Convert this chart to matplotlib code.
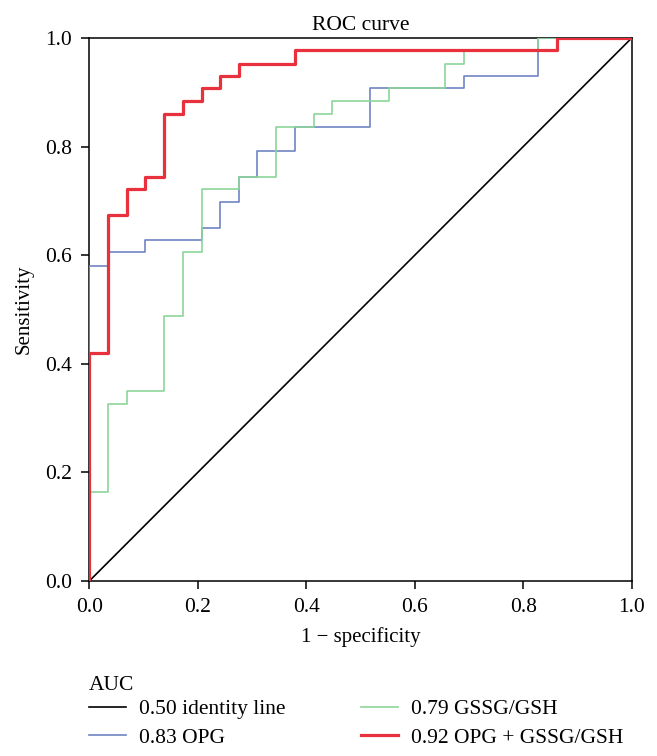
import matplotlib
matplotlib.use("Agg")
import matplotlib.pyplot as plt
from matplotlib.lines import Line2D

plt.rcParams['font.family'] = ['Liberation Serif', 'DejaVu Serif']

# ROC step vertices (1 - specificity, sensitivity)
identity_fpr = [0.0, 1.0]
identity_tpr = [0.0, 1.0]

opg_fpr = [0.0, 0.0, 0.034, 0.034, 0.103, 0.103, 0.207, 0.207, 0.241, 0.241,
           0.276, 0.276, 0.310, 0.310, 0.379, 0.379, 0.517, 0.517, 0.690, 0.690,
           0.828, 0.828, 1.0]
opg_tpr = [0.0, 0.581, 0.581, 0.605, 0.605, 0.628, 0.628, 0.651, 0.651, 0.698,
           0.698, 0.744, 0.744, 0.791, 0.791, 0.837, 0.837, 0.907, 0.907, 0.930,
           0.930, 1.0, 1.0]

gssg_fpr = [0.0, 0.0, 0.034, 0.034, 0.069, 0.069, 0.138, 0.138, 0.172, 0.172,
            0.207, 0.207, 0.276, 0.276, 0.345, 0.345, 0.414, 0.414, 0.448, 0.448,
            0.552, 0.552, 0.655, 0.655, 0.690, 0.690, 0.828, 0.828, 1.0]
gssg_tpr = [0.0, 0.163, 0.163, 0.326, 0.326, 0.349, 0.349, 0.488, 0.488, 0.605,
            0.605, 0.721, 0.721, 0.744, 0.744, 0.837, 0.837, 0.860, 0.860, 0.884,
            0.884, 0.907, 0.907, 0.953, 0.953, 0.977, 0.977, 1.0, 1.0]

combo_fpr = [0.0, 0.0, 0.034, 0.034, 0.069, 0.069, 0.103, 0.103, 0.138, 0.138,
             0.172, 0.172, 0.207, 0.207, 0.241, 0.241, 0.276, 0.276, 0.379, 0.379,
             0.862, 0.862, 1.0]
combo_tpr = [0.0, 0.419, 0.419, 0.674, 0.674, 0.721, 0.721, 0.744, 0.744, 0.860,
             0.860, 0.884, 0.884, 0.907, 0.907, 0.930, 0.930, 0.953, 0.953, 0.977,
             0.977, 1.0, 1.0]

labels = ["0.50 identity line", "0.83 OPG", "0.79 GSSG/GSH", "0.92 OPG + GSSG/GSH"]
ticks = [0.0, 0.2, 0.4, 0.6, 0.8, 1.0]
tick_labels = ["0.0", "0.2", "0.4", "0.6", "0.8", "1.0"]

c_black = "#000000"
c_blue = "#7084C4"
c_green = "#8CD59A"
c_red = "#E8313C"

W, H = 657, 756
fig = plt.figure(figsize=(W / 100, H / 100), dpi=100)
x0, x1, y0, y1 = 89.3, 631.7, 581.0, 38.0
ax = fig.add_axes([x0 / W, 1 - y0 / H, (x1 - x0) / W, (y0 - y1) / H])

ax.plot(identity_fpr, identity_tpr, color=c_black, lw=1.2, zorder=2)
ax.plot(opg_fpr, opg_tpr, color=c_blue, lw=1.2, zorder=3)
ax.plot(gssg_fpr, gssg_tpr, color=c_green, lw=1.2, zorder=4)
ax.plot(combo_fpr, combo_tpr, color=c_red, lw=2.3, zorder=5)

ax.set_xlim(0, 1)
ax.set_ylim(0, 1)
ax.set_xticks(ticks)
ax.set_xticklabels(tick_labels)
ax.set_yticks(ticks)
ax.set_yticklabels(tick_labels)
ax.tick_params(direction='out', length=5.5, width=1.1, labelsize=15.5, pad=7, colors='black')
for s in ax.spines.values():
    s.set_linewidth(1.1)
    s.set_color('black')

ax.set_title("ROC curve", fontsize=15.5, pad=6)
ax.set_xlabel("1 \u2212 specificity", fontsize=15, labelpad=7)
ax.set_ylabel("Sensitivity", fontsize=15, labelpad=8)

handles = [Line2D([], [], color=c_black, lw=1.2),
           Line2D([], [], color=c_blue, lw=1.2),
           Line2D([], [], color=c_green, lw=1.2),
           Line2D([], [], color=c_red, lw=2.3)]
leg = fig.legend(handles, labels, title="AUC", ncol=2, loc='upper left',
                 bbox_to_anchor=(89 / W, 1 - 676 / H), frameon=False,
                 fontsize=15.5, title_fontsize=15.5, alignment='left',
                 handlelength=1.72, handletextpad=0.6, columnspacing=3.5,
                 labelspacing=0.39, borderpad=0, borderaxespad=0)
leg._legend_box.sep = 3

fig.savefig("out.png", dpi=100)
